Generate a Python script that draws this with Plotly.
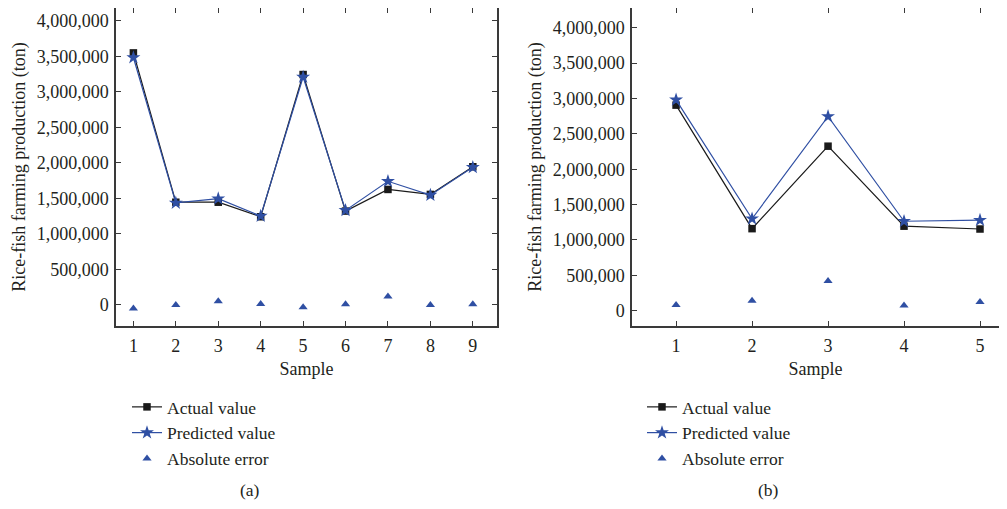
import plotly.graph_objects as go

# ---- data ----
samples_a = [1, 2, 3, 4, 5, 6, 7, 8, 9]
actual_a = [3550000, 1445000, 1445000, 1240000, 3245000, 1320000, 1625000, 1555000, 1945000]
predicted_a = [3485000, 1435000, 1495000, 1250000, 3210000, 1330000, 1740000, 1545000, 1937000]
error_a = [-55000, -5000, 50000, 10000, -35000, 5000, 115000, -5000, 5000]

samples_b = [1, 2, 3, 4, 5]
actual_b = [2905000, 1160000, 2325000, 1195000, 1155000]
predicted_b = [2980000, 1300000, 2745000, 1265000, 1280000]
error_b = [80000, 140000, 420000, 75000, 125000]

y_ticks = [0, 500000, 1000000, 1500000, 2000000, 2500000, 3000000, 3500000, 4000000]
panel_labels = ["(a)", "(b)"]

# page body has an 8px margin, so the figure is sized to fit inside it
OFF = 8
W, H = 1007 - OFF - 8, 509 - OFF - 8


def fx(px):
    return (px - OFF) / W


def fy(py):
    return 1 - (py - OFF) / H


FONT = "Liberation Serif"
TXT = "#231f20"
BLACK = "#1a1a1a"
BLUE = "#2f4fa3"
AX = "#3a3a3a"

fig = go.Figure()


def add_panel(xs, act, pred, err, xa, ya, leg):
    fig.add_trace(go.Scatter(x=xs, y=act, mode="lines+markers", name="Actual value",
                             line=dict(color=BLACK, width=1.2),
                             marker=dict(symbol="square", size=7.5, color=BLACK),
                             xaxis=xa, yaxis=ya, legend=leg))
    fig.add_trace(go.Scatter(x=xs, y=pred, mode="lines+markers", name="Predicted value",
                             line=dict(color=BLUE, width=1.2),
                             marker=dict(symbol="star", size=10.5, color=BLUE),
                             xaxis=xa, yaxis=ya, legend=leg))
    fig.add_trace(go.Scatter(x=xs, y=err, mode="markers", name="Absolute error",
                             marker=dict(symbol="triangle-up", size=8, color=BLUE),
                             xaxis=xa, yaxis=ya, legend=leg))


add_panel(samples_a, actual_a, predicted_a, error_a, "x", "y", "legend")
add_panel(samples_b, actual_b, predicted_b, error_b, "x2", "y2", "legend2")

ydom = [fy(326), min(1.0, fy(7))]
common_x = dict(showgrid=False, zeroline=False, showline=True, linecolor=AX, linewidth=1.5,
                ticks="inside", ticklen=5, tickwidth=1.3, tickcolor=AX, mirror="ticks",
                tickfont=dict(family=FONT, size=18, color=TXT),
                title=dict(text="Sample", font=dict(family=FONT, size=18, color=TXT), standoff=7),
                automargin=False, ticklabelstandoff=3)
common_y = dict(showgrid=False, zeroline=False, showline=True, linecolor=AX, linewidth=1.5,
                ticks="inside", ticklen=5, tickwidth=1.3, tickcolor=AX,
                tickvals=y_ticks, tickformat=",d",
                tickfont=dict(family=FONT, size=18, color=TXT),
                title=dict(text="Rice-fish farming production (ton)",
                           font=dict(family=FONT, size=18, color=TXT), standoff=6),
                automargin=False, ticklabelstandoff=2, domain=ydom)

fig.update_layout(
    width=W, height=H, margin=dict(l=0, r=0, t=0, b=0),
    plot_bgcolor="white", paper_bgcolor="white",
    font=dict(family=FONT, color=TXT),
    xaxis=dict(common_x, domain=[fx(116), fx(497)], range=[0.59, 9.57],
               tickvals=samples_a, anchor="y"),
    yaxis=dict(common_y, range=[-300000, 4183000], anchor="x", mirror="ticks"),
    xaxis2=dict(common_x, domain=[fx(632), 1.0], range=[0.42, 5.25],
                tickvals=samples_b, anchor="y2"),
    yaxis2=dict(common_y, range=[-215000, 4277000], anchor="x2", mirror=False),
    legend=dict(x=fx(127), y=fy(389), xanchor="left", yanchor="top",
                font=dict(family=FONT, size=17.5, color=TXT), bgcolor="rgba(0,0,0,0)"),
    legend2=dict(x=fx(642), y=fy(389), xanchor="left", yanchor="top",
                 font=dict(family=FONT, size=17.5, color=TXT), bgcolor="rgba(0,0,0,0)"),
    annotations=[
        dict(text=panel_labels[0], x=fx(250), y=0, xref="paper", yref="paper",
             xanchor="center", yanchor="bottom", borderpad=0,
             showarrow=False, font=dict(family=FONT, size=17.5, color=TXT)),
        dict(text=panel_labels[1], x=fx(768), y=0, xref="paper", yref="paper",
             xanchor="center", yanchor="bottom", borderpad=0,
             showarrow=False, font=dict(family=FONT, size=17.5, color=TXT)),
    ],
)

fig.write_html("out.html")
